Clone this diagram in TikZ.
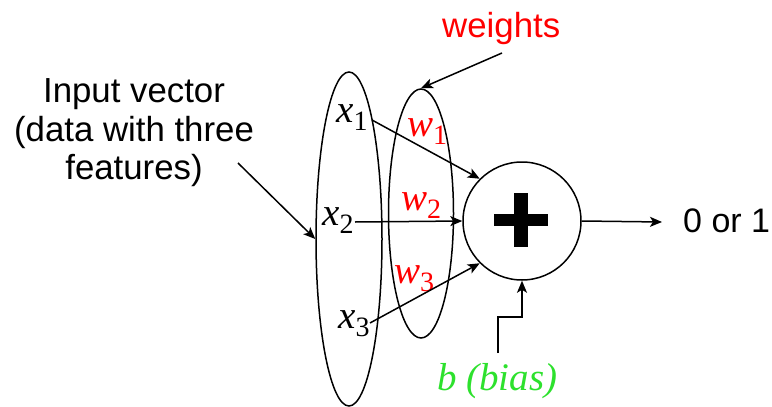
\documentclass[tikz,border=0pt]{standalone}
\usepackage{fontspec}
\setmainfont{Liberation Serif}
\newfontfamily\sansf{Liberation Sans}
\usetikzlibrary{shapes.geometric,arrows.meta}
\definecolor{wred}{RGB}{255,0,0}
\definecolor{bgreen}{RGB}{45,225,45}
\newcommand{\varsub}[2]{\textit{#1}\raisebox{-8pt}{\fontsize{28}{28}\selectfont #2}}
\begin{document}
\begin{tikzpicture}[x=1pt,y=-1pt,
  lw/.style={line width=1.5pt},
  arr/.style={lw,-{Stealth[length=12pt,width=10pt,inset=3pt]}},
  var/.style={inner sep=0pt,anchor=base west,font=\fontsize{39}{39}\selectfont},
  wt/.style={var,text=wred},
  sanslab/.style={inner sep=0pt,font=\sansf\fontsize{34.8}{38.5}\selectfont}]
\useasboundingbox (0,0) rectangle (772,407);
\fill[white] (0,0) rectangle (772,407);
% ellipses
\node[ellipse,draw,lw,minimum width=66pt,minimum height=334pt,inner sep=0pt] (E1) at (349,239) {};
\node[ellipse,draw,lw,minimum width=65pt,minimum height=249pt,inner sep=0pt] (E2) at (421,213.5) {};
% summation circle
\node[circle,draw,lw,minimum size=118pt,inner sep=0pt] (c) at (522,221) {};
\draw[line width=12pt] (494,220) -- (548,220);
\draw[line width=14pt] (520.5,193) -- (520.5,247);
% inputs
\node[var] (x1) at (336,122) {\varsub{x}{1}};
\node[var] (x2) at (322,225) {\varsub{x}{2}};
\node[var] (x3) at (338,328) {\varsub{x}{3}};
% weights
\node[wt] (w1) at (407,136) {\varsub{w}{1}};
\node[wt] (w2) at (401,210) {\varsub{w}{2}};
\node[wt] (w3) at (394,283) {\varsub{w}{3}};
% connectors from inputs
\coordinate (s1) at (372,120);
\coordinate (s2) at (355,222);
\coordinate (s3) at (370,323);
\draw[arr] (s1) -- (c.135);
\draw[arr] (s2) -- (c.west);
\draw[arr] (s3) -- (c.225);
% output
\node[sanslab,anchor=base west,font=\sansf\fontsize{34}{38.5}\selectfont] (out) at (683,232) {0 or 1};
\draw[arr] (c.east) -- (662,222);
% weights label
\node[sanslab,anchor=base west,text=wred] (wl) at (442,37) {weights};
\coordinate (wa) at (502,53);
\draw[arr] (wa) -- (E2.north);
% input label
\node[sanslab,align=center] (il) at (134,133) {Input vector\\(data with three\\features)};
\coordinate (ia) at (238,163);
\draw[arr] (ia) -- (E1.west);
% bias
\node[var,text=bgreen] (b) at (437,390) {\textit{b (bias)}};
\coordinate (bs) at (498,353);
\draw[arr] (bs) -- (498,317) -- (c.south |- 0,317) -- (c.south);
\end{tikzpicture}
\end{document}
